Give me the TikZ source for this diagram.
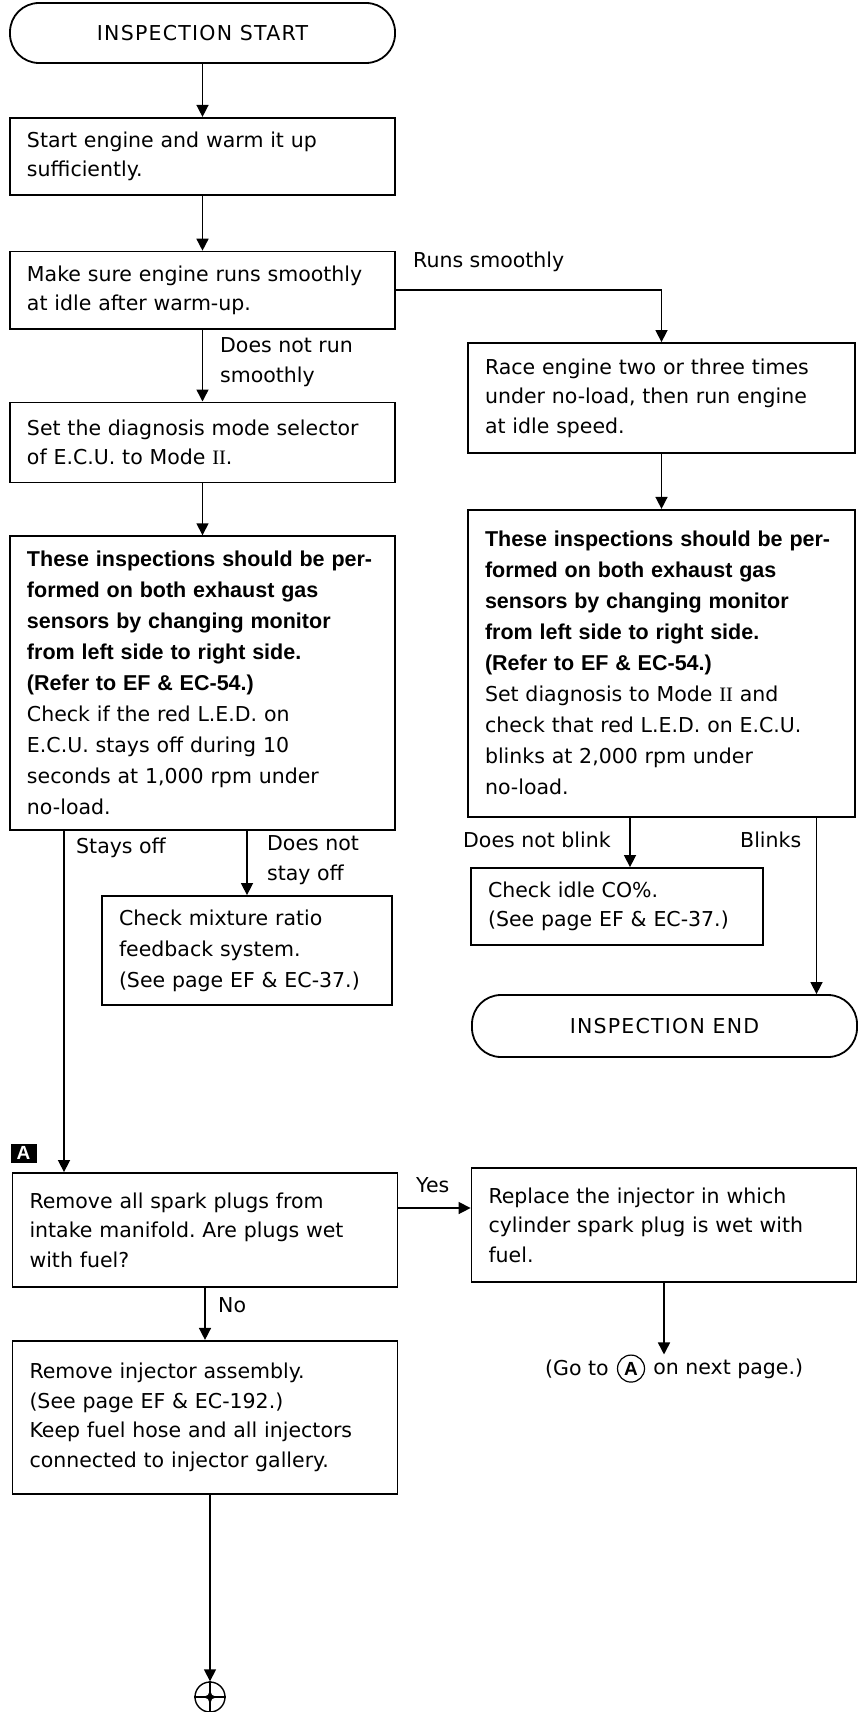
\documentclass[tikz,border=0pt]{standalone}
\usepackage{fontspec}
\setmainfont{DejaVu Sans}
\newfontfamily\heavysans{Liberation Sans}
\newfontfamily\serifII{Liberation Serif}
\usetikzlibrary{arrows.meta,positioning}
\newcommand{\modeii}{{\serifII II}}
\frenchspacing

\begin{document}
\begin{tikzpicture}[
    x=1pt, y=-1pt,
    node distance=53pt,
    box/.style={draw, line width=1.8pt, align=left, inner xsep=17pt, inner ysep=5pt,
                text width=351pt, font=\fontsize{20.5}{29.5}\selectfont},
    term/.style={draw, line width=1.8pt, rounded corners=29pt, minimum width=385pt,
                 minimum height=60pt,
                 font=\fontsize{20.5}{24}\selectfont\addfontfeatures{LetterSpace=6}},
    lbl/.style={inner sep=0pt, align=left, font=\fontsize{20.5}{30}\selectfont},
    bold/.style={font=\heavysans\bfseries\fontsize{19}{19}\selectfont},
    arr/.style={-{Triangle[length=12pt, width=12pt]}, line width=1.5pt}
  ]
    \useasboundingbox (0,0) rectangle (859,1712);

    % left column
    \node[term] (start) at (202.5,33) {INSPECTION START};
    \node[box, minimum height=77pt, below=of start] (warm)
      {Start engine and warm it up\\sufficiently.};
    \node[box, minimum height=77pt, below=55pt of warm] (smooth)
      {Make sure engine runs smoothly\\at idle after warm-up.};
    \node[box, minimum height=80pt, below=72pt of smooth] (selector)
      {Set the diagnosis mode selector\\of E.C.U. to Mode \modeii.};
    \node[box, minimum height=294pt, below=52pt of selector,
          font=\fontsize{20.5}{31}\selectfont] (monitorL)
      {{\heavysans\bfseries\fontsize{21.5}{31}\selectfont These inspections should be per-\\formed on both exhaust gas\\sensors by changing monitor\\from left side to right side.\\(Refer to EF \& EC-54.)}\\Check if the red L.E.D. on\\E.C.U. stays off during 10\\seconds at 1,000 rpm under\\no-load.};
    \node[box, text width=256pt, minimum height=109pt,
          font=\fontsize{20.5}{31}\selectfont] (mixture) at (247,950.5)
      {Check mixture ratio\\feedback system.\\(See page EF \& EC-37.)};

    \node[bold, fill=black, text=white, inner sep=0pt, minimum width=26pt,
          minimum height=19pt] (tagA) at (23.5,1153) {A};
    \node[box, minimum height=114pt] (plugs) at (205,1230)
      {Remove all spark plugs from\\intake manifold. Are plugs wet\\with fuel?};
    \node[box, minimum height=153pt, below=52pt of plugs] (injector)
      {Remove injector assembly.\\(See page EF \& EC-192.)\\Keep fuel hose and all injectors\\connected to injector gallery.};
    \node[circle, draw, line width=1.4pt, minimum size=30pt, inner sep=0pt] (target)
      at (210,1697) {};

    % right column
    \node[box, text width=353pt, minimum height=110pt] (race) at (661.5,398)
      {Race engine two or three times\\under no-load, then run engine\\at idle speed.};
    \node[box, text width=353pt, minimum height=307pt, below=55pt of race,
          font=\fontsize{20.5}{31}\selectfont] (monitorR)
      {{\heavysans\bfseries\fontsize{21.5}{31}\selectfont These inspections should be per-\\formed on both exhaust gas\\sensors by changing monitor\\from left side to right side.\\(Refer to EF \& EC-54.)}\\Set diagnosis to Mode \modeii{} and\\check that red L.E.D. on E.C.U.\\blinks at 2,000 rpm under\\no-load.};
    \node[box, text width=258pt, minimum height=77pt] (idleco) at (617,906.5)
      {Check idle CO\%.\\(See page EF \& EC-37.)};
    \node[term, minimum height=62pt] (finish) at (664.5,1026) {INSPECTION END};
    \node[box, minimum height=114pt] (replace) at (664,1225)
      {Replace the injector in which\\cylinder spark plug is wet with\\fuel.};

    \node[lbl, anchor=base west] (goto) at (545,1375) {(Go to};
    \node[bold, circle, draw, line width=1.2pt, inner sep=1pt, minimum size=27pt,
          right=8pt of goto] (circA) {A};
    \node[lbl, right=8pt of circA] (nextpage) {on next page.)};

    % branch labels
    \node[lbl, anchor=base west] (runs) at (413,268) {Runs smoothly};
    \node[lbl, anchor=north west] (notrun) at (220,337) {Does not run\\smoothly};
    \node[lbl, anchor=base west] (staysoff) at (76,853) {Stays off};
    \node[lbl, anchor=north west] (notoff) at (267,835) {Does not\\stay off};
    \node[lbl, anchor=base west] (noblink) at (463,847) {Does not blink};
    \node[lbl, anchor=base west] (blinks) at (740,847) {Blinks};
    \node[lbl, anchor=base west] (yes) at (416,1192) {Yes};
    \node[lbl, anchor=base west] (no) at (218,1312) {No};

    % connectors
    \foreach \a/\b in {start/warm, warm/smooth, smooth/selector, selector/monitorL,
                       race/monitorR, plugs/injector}
      \draw[arr] (\a) -- (\b);
    \draw[arr] (smooth.east) -| (race.north);
    \draw[arr] ([xshift=-141pt]plugs.north |- monitorL.south) -- ([xshift=-141pt]plugs.north);
    \draw[arr] (mixture.north |- monitorL.south) -- (mixture.north);
    \draw[arr] ([xshift=13pt]idleco.north |- monitorR.south) -- ([xshift=13pt]idleco.north);
    \draw[arr] ([xshift=152pt]finish.north |- monitorR.south) -- ([xshift=152pt]finish.north);
    \draw[arr] ([yshift=22pt]plugs.east) -- ([yshift=22pt]plugs.east -| replace.west);
    \draw[arr] (replace.south) -- (replace.south |- circA.north);
    \draw[arr] (injector.south -| target) -- (target.north);

    % connector mark
    \draw[line width=1.2pt] (target.north) -- (target.south) (target.west) -- (target.east);
    \fill[shift={(target.center)}] (0,-7) -- (2,-2) -- (7,0) -- (2,2) -- (0,7)
      -- (-2,2) -- (-7,0) -- (-2,-2) -- cycle;
  \end{tikzpicture}
\end{document}
